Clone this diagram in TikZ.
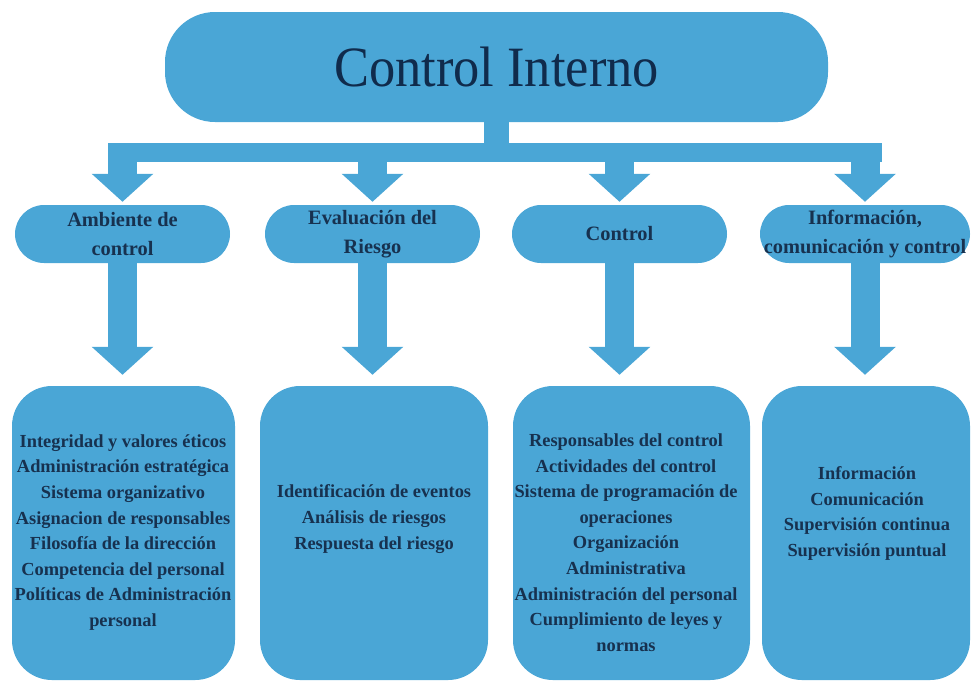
\documentclass[tikz,border=0pt]{standalone}
\usepackage{fontspec}
\usepackage{graphicx}
\setmainfont{Liberation Serif}[BoldFont={Liberation Serif Bold}]
\usetikzlibrary{arrows.meta,calc}

\definecolor{boxblue}{HTML}{4AA6D6}
\definecolor{inkblue}{HTML}{17314F}
\definecolor{titleblue}{HTML}{102B4C}

\tikzset{
  panel/.style={fill=boxblue, draw=none, inner sep=0pt},
  titlebox/.style={panel, minimum width=663pt, minimum height=110pt, rounded corners=50pt},
  pillbox/.style={panel, minimum height=58pt, rounded corners=29pt, text=inkblue,
    font=\fontsize{20.4}{29}\selectfont\bfseries, align=center},
  listbox/.style={panel, minimum height=294pt, rounded corners=40pt},
  listtext/.style={inner sep=0pt, text=inkblue, align=center,
    font=\fontsize{18.4}{25.6}\selectfont\bfseries},
  beam/.style={draw=boxblue, line width=19pt, line cap=butt},
  trunk/.style={draw=boxblue, line width=25pt, line cap=butt},
  leg/.style={draw=boxblue, line width=29pt, line cap=butt,
    -{Triangle[width=60pt,length=28pt]}},
}

\begin{document}
\begin{tikzpicture}[x=1pt, y=-1pt]
\useasboundingbox (0,0) rectangle (973,681);

% main title
\node[titlebox, text=titleblue, font=\fontsize{57}{60}\selectfont] (top) at (496.5,67) {\scalebox{0.92}[1]{Control Interno}};

% component headings
\node[pillbox, minimum width=215pt] (s1) at (122.5,234) {Ambiente de\\control};
\node[pillbox, minimum width=215pt] (s2) at (372.5,234) {Evaluación del\\Riesgo};
\node[pillbox, minimum width=215pt] (s3) at (619.5,234) {Control};
\node[pillbox, minimum width=210pt] (s4) at (865,234) {Información,\\comunicación y control};

% detail panels
\node[listbox, minimum width=223pt] (b1) at (123.5,533) {};
\node[listbox, minimum width=228pt] (b2) at (374,533) {};
\node[listbox, minimum width=237pt] (b3) at (631.5,533) {};
\node[listbox, minimum width=208pt] (b4) at (866,533) {};

\node[listtext] (t1) at (123,532.5) {Integridad y valores éticos\\Administración estratégica\\Sistema organizativo\\Asignacion de responsables\\Filosofía de la dirección\\Competencia del personal\\Políticas de Administración\\personal};
\node[listtext] (t2) at (374,519) {Identificación de eventos\\Análisis de riesgos\\Respuesta del riesgo};
\node[listtext] (t3) at (626,542.5) {Responsables del control\\Actividades del control\\Sistema de programación de\\operaciones\\Organización\\Administrativa\\Administración del personal\\Cumplimiento de leyes y\\normas};
\node[listtext] (t4) at (867,513.5) {Información\\Comunicación\\Supervisión continua\\Supervisión puntual};

% distribution beam under the title
\coordinate (barL) at (109.5,152.5);
\coordinate (barR) at (881.5,152.5);
\coordinate (hub) at (top.south |- barL);
\draw[trunk] (top.south) -- (hub);
\draw[beam] (barL) -- (barR);

% legs from the beam down to each heading
\foreach \i in {1,...,4} {
  \draw[leg] ($(s\i.north |- barL)+(0,-9.5)$) -- ($(s\i.north)+(0,-3)$);
}

% arrows from each heading to its panel
\foreach \i in {1,...,4} {
  \draw[leg] (s\i.south) -- ($(s\i.south |- b\i.north)+(0,-11)$);
}
\end{tikzpicture}
\end{document}
